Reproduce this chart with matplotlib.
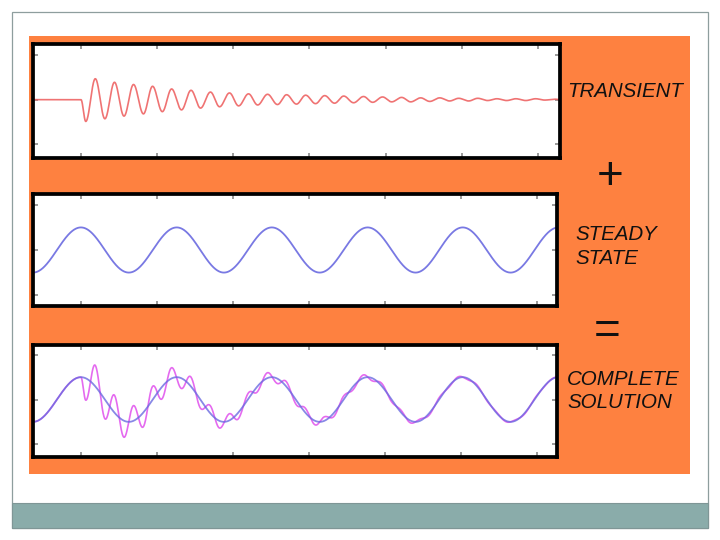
import numpy as np
import matplotlib
matplotlib.use("Agg")
import matplotlib.pyplot as plt
from matplotlib.patches import Rectangle

# ---------------- data ----------------
# time in x-tick units (ticks at 0..6); input switched on at t = 0
steady_times = [-0.63, 0.0, 0.63, 1.26, 1.88, 2.51, 3.14, 3.77, 4.40, 5.02, 5.65, 6.28]
steady_values = [-0.5, 0.5, -0.5, 0.5, -0.5, 0.5, -0.5, 0.5, -0.5, 0.5, -0.5, 0.5]

transient_times = [-0.63, 0.0,
                   0.063, 0.188, 0.314, 0.44, 0.565, 0.69, 0.82, 0.94, 1.068, 1.19,
                   1.32, 1.445, 1.57, 1.70, 1.82, 1.95, 2.07, 2.20, 2.32, 2.45,
                   2.58, 2.70, 2.83, 2.95, 3.08, 3.20, 3.33, 3.45, 3.58, 3.71,
                   3.83, 3.96, 4.08, 4.21, 4.33, 4.46, 4.58, 4.71, 4.84, 4.96,
                   5.09, 5.21, 5.34, 5.46, 5.59, 5.71, 5.84, 5.97, 6.09, 6.22,
                   6.30]
transient_values = [0.0, 0.0,
                    -0.49, 0.47, -0.43, 0.39, -0.37, 0.34, -0.32, 0.30, -0.27, 0.24,
                    -0.23, 0.21, -0.19, 0.17, -0.16, 0.15, -0.14, 0.13, -0.12, 0.12,
                    -0.11, 0.11, -0.10, 0.10, -0.09, 0.09, -0.08, 0.08, -0.07, 0.07,
                    -0.06, 0.06, -0.05, 0.05, -0.05, 0.04, -0.04, 0.04, -0.03, 0.03,
                    -0.03, 0.03, -0.02, 0.02, -0.02, 0.02, -0.02, 0.02, -0.01, 0.01,
                    0.0]

x_ticks = [0, 1, 2, 3, 4, 5, 6]
y_ticks = [-1, 0, 1]

operators = ["+", "="]


def through_extrema(t, te, ve):
    """Draw a smooth half-wave between consecutive read-off extrema."""
    te = np.asarray(te, float)
    ve = np.asarray(ve, float)
    i = np.clip(np.searchsorted(te, t, side="right") - 1, 0, len(te) - 2)
    frac = np.clip((t - te[i]) / (te[i + 1] - te[i]), 0, 1)
    return ve[i] + (ve[i + 1] - ve[i]) * (1 - np.cos(np.pi * frac)) / 2


# ---------------- figure / slide ----------------
W, H = 720, 540
fig = plt.figure(figsize=(7.2, 5.4), dpi=100)
fig.patch.set_facecolor("white")


def fbox(x0, y0, x1, y1):
    return [x0 / W, 1 - y1 / H, (x1 - x0) / W, (y1 - y0) / H]


def frect(x0, y0, x1, y1, **kw):
    b = fbox(x0, y0, x1, y1)
    fig.add_artist(Rectangle((b[0], b[1]), b[2], b[3], transform=fig.transFigure, **kw))


# slide frame and footer bar
frect(12, 12, 708, 528, facecolor="white", edgecolor="#8e9e9e", lw=0.9, zorder=0)
frect(12, 503, 708, 528, facecolor="#8aacaa", edgecolor="#7f9696", lw=0.8, zorder=1)
# orange panel
frect(28.5, 36, 690, 474, facecolor="#fe8140", edgecolor="none", zorder=1)

t = np.linspace(-0.63, 6.30, 4000)
steady = through_extrema(t, steady_times, steady_values)
transient = through_extrema(t, transient_times, transient_values)
complete = steady + transient

RED = "#ee6464"
BLUE = "#6a6ae0"
MAGENTA = "#e25aee"

panels = [
    dict(box=(33, 44, 560, 157.5), xlim=(-0.63, 6.29), ylim=(-1.30, 1.25)),
    dict(box=(33, 194, 557, 306), xlim=(-0.63, 6.26), ylim=(-1.24, 1.24)),
    dict(box=(33, 345, 557, 456.7), xlim=(-0.63, 6.26), ylim=(-1.28, 1.22)),
]

axes = []
for p in panels:
    ax = fig.add_axes(fbox(*p["box"]))
    ax.set_zorder(5)
    ax.set_facecolor("white")
    ax.set_xlim(*p["xlim"])
    ax.set_ylim(*p["ylim"])
    ax.set_xticks(x_ticks)
    ax.set_yticks(y_ticks)
    ax.tick_params(direction="in", length=3.5, width=1.2, color="#8a8a8a",
                   top=True, right=True, labelbottom=False, labelleft=False)
    for s in ax.spines.values():
        s.set_color("black")
        s.set_linewidth(2.7)
    axes.append(ax)

axes[0].plot(t, transient, color=RED, lw=1.2, alpha=0.9)
axes[1].plot(t, steady, color=BLUE, lw=1.3, alpha=0.9)
axes[2].plot(t, complete, color=MAGENTA, lw=1.2, alpha=0.9)
axes[2].plot(t, steady, color=BLUE, lw=1.3, alpha=0.8)

# right-hand labels
tkw = dict(fontfamily="Liberation Sans", fontstyle="italic", fontsize=14.8,
           color="#111111", ha="left", va="baseline", zorder=6)
fig.text(567 / W, 1 - 97 / H, "TRANSIENT", **tkw)
fig.text(575.5 / W, 1 - 240 / H, "STEADY", **tkw)
fig.text(575.5 / W, 1 - 264 / H, "STATE", **tkw)
fig.text(567 / W, 1 - 385 / H, "COMPLETE", **tkw)
fig.text(567 / W, 1 - 408.5 / H, "SOLUTION", **tkw)

okw = dict(fontfamily="Liberation Sans", fontsize=33, color="#111111",
           ha="center", va="center", zorder=6)
fig.text(610 / W, 1 - 177 / H, operators[0], **okw)
fig.text(607.5 / W, 1 - 332 / H, operators[1], **okw)

fig.savefig("out.png", dpi=100, facecolor=fig.get_facecolor())
